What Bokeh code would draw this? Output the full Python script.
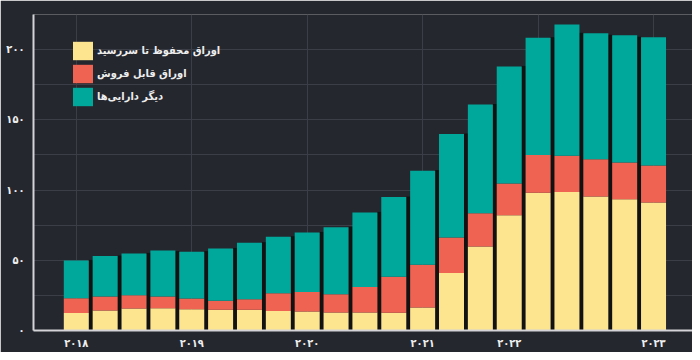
from bokeh.plotting import figure
from bokeh.models import ColumnDataSource, FixedTicker, Legend, LegendItem
from bokeh.embed import file_html
from bokeh.resources import INLINE

# ---- data ----
periods = list(range(21))
held_to_maturity = [12.4, 14.3, 15.7, 15.9, 15.2, 14.7, 14.7, 13.8, 13.6, 12.9, 12.8,
                    12.6, 16.4, 41.0, 59.8, 82.0, 98.1, 98.6, 95.5, 93.4, 91.2]
available_for_sale = [10.6, 9.9, 9.4, 8.3, 7.6, 6.4, 7.6, 12.8, 13.9, 12.9, 18.2,
                      25.7, 30.5, 25.2, 23.6, 22.7, 26.9, 25.9, 26.4, 26.2, 26.2]
other_assets = [26.9, 28.8, 29.8, 32.8, 33.3, 37.3, 40.2, 40.1, 42.3, 47.7, 53.1,
                56.7, 66.9, 73.7, 77.5, 83.3, 83.4, 93.3, 89.7, 90.6, 91.4]
series_labels = ["اوراق محفوظ تا سررسید", "اوراق قابل فروش", "دیگر دارایی\u200cها"]
year_tick_pos = [0, 4, 8, 12, 15, 20]
year_tick_labels = ["۲۰۱۸", "۲۰۱۹", "۲۰۲۰", "۲۰۲۱", "۲۰۲۲", "۲۰۲۳"]
y_ticks = [0, 50, 100, 150, 200]
y_tick_labels = ["۰", "۵۰", "۱۰۰", "۱۵۰", "۲۰۰"]

BG = "#25272f"
COLORS = ["#fde48f", "#ee6352", "#00a89b"]
TXT = "#eeeeee"
GRID = "#3b3e47"
FONT = "DejaVu Sans Condensed"

totals = [a + b + c for a, b, c in zip(held_to_maturity, available_for_sale, other_assets)]

source = ColumnDataSource(dict(x=periods, held=held_to_maturity,
                               afs=available_for_sale, other=other_assets))

p = figure(width=692, height=352, x_range=(-1.483, 21.35), y_range=(0, 225),
           output_backend="svg", toolbar_location=None,
           background_fill_color=BG, border_fill_color=BG,
           min_border_left=33, min_border_right=0, min_border_top=14, min_border_bottom=20)
p.outline_line_color = None

# dark separators between neighbouring bars (up to the lower neighbour's height)
gap_x = [periods[i] + 0.5 for i in range(len(periods) - 1)]
gap_top = [min(totals[i], totals[i + 1]) for i in range(len(periods) - 1)]
p.vbar(x=gap_x, top=gap_top, width=0.13, color="#121212")

rs = p.vbar_stack(["held", "afs", "other"], x="x", width=0.866, color=COLORS,
                  line_color=None, source=source)

# axes
p.xaxis.ticker = FixedTicker(ticks=year_tick_pos)
p.xaxis.major_label_overrides = {k: v for k, v in zip(year_tick_pos, year_tick_labels)}
p.yaxis.ticker = FixedTicker(ticks=y_ticks, minor_ticks=[25, 75, 125, 175, 225])
p.yaxis.major_label_overrides = {k: v for k, v in zip(y_ticks, y_tick_labels)}
for ax in (p.xaxis[0], p.yaxis[0]):
    ax.axis_line_color = "#d4d4d8"
    ax.axis_line_width = 2
    ax.major_tick_line_color = None
    ax.minor_tick_line_color = None
    ax.major_tick_out = 0
    ax.major_tick_in = 0
    ax.major_label_text_color = TXT
    ax.major_label_text_font = FONT
    ax.major_label_text_font_style = "bold"
    ax.major_label_text_font_size = "11px"
p.xaxis.major_label_standoff = 6
p.yaxis.major_label_standoff = 5

p.xgrid.ticker = FixedTicker(ticks=[0, 4, 8, 12, 16, 20])
p.xgrid.grid_line_color = GRID
p.ygrid.grid_line_color = GRID
p.ygrid.minor_grid_line_color = GRID

legend = Legend(items=[LegendItem(label=lbl, renderers=[r]) for lbl, r in zip(series_labels, rs)],
                location=(37, 222), background_fill_alpha=0, border_line_color=None,
                glyph_width=25, glyph_height=23, spacing=0, padding=0, margin=0,
                label_height=23, label_standoff=2, label_text_color=TXT, label_text_font=FONT,
                label_text_font_style="bold", label_text_font_size="11px")
p.add_layout(legend)

open("out.html", "w").write(file_html(p, INLINE))
